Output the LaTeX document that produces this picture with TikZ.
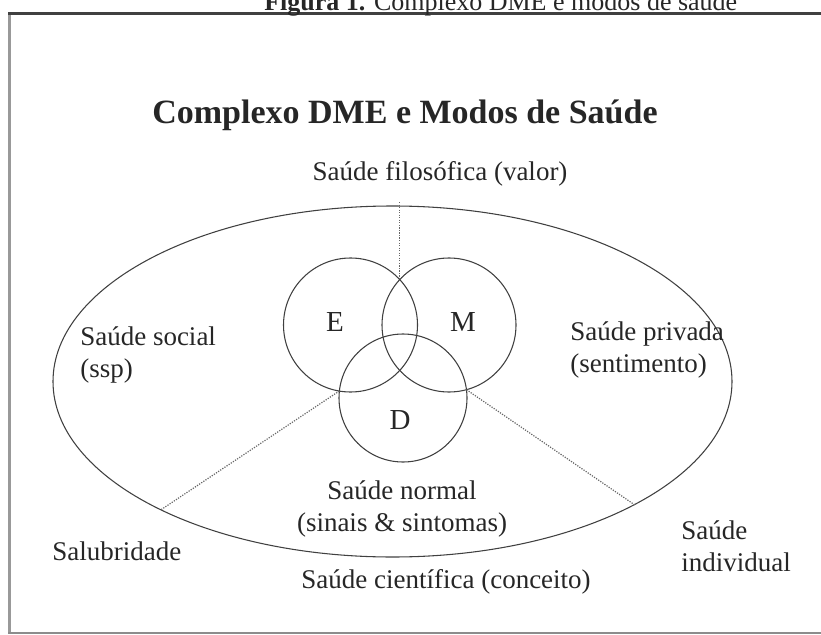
\documentclass[tikz,border=0pt]{standalone}
\usepackage{fontspec}
\setmainfont{Liberation Serif}
\usetikzlibrary{shapes.geometric,positioning}

\begin{document}
\begin{tikzpicture}[x=0.75pt, y=-0.75pt,
    txt/.style={inner sep=0pt, text=black!85, font=\fontsize{20.25}{24}\selectfont},
    ring/.style={circle, draw=black!75, line width=0.8pt, inner sep=0pt},
    dotline/.style={draw=black!60, densely dotted, line width=0.9pt}]

    \useasboundingbox (0,0) rectangle (821,635);
    \clip (0,0) rectangle (821,635);

    % frame round the figure
    \draw[black!40, line width=2.2pt] (9.5,13) -- (9.5,634);
    \draw[black!75, line width=2pt] (8,13.5) -- (821,13.5);
    \draw[black!45, line width=1.5pt] (8,633) -- (821,633);

    \node[txt, anchor=base west, font=\fontsize{19.5}{24}\selectfont] (cap) at (264,11) {\textbf{Figura 1.} Complexo DME e modos de saúde}; % caption, cut at the top
    \node[txt, anchor=base, font=\bfseries\fontsize{25.5}{30}\selectfont] (title) at (405,123) {Complexo DME e Modos de Saúde};

    \node[ellipse, draw=black!75, line width=0.8pt, minimum width=509.25pt, minimum height=263.25pt, inner sep=0pt] (ell) at (392.5,381.5) {}; % big ellipse
    \node[ring, minimum size=100.5pt] (E) at (350.5,325) {}; % top left circle
    \node[ring, minimum size=100.5pt] (M) at (449,325) {}; % top right circle
    \node[ring, minimum size=96pt] (D) at (403,398) {}; % bottom circle

    \node[txt, font=\fontsize{21.75}{24}\selectfont] (Elab) at (335,322) {E};
    \node[txt, font=\fontsize{21.75}{24}\selectfont] (Mlab) at (463,322) {M};
    \node[txt, font=\fontsize{21.75}{24}\selectfont] (Dlab) at (400,420) {D};

    \node[txt, anchor=base] (filo) at (440,180) {Saúde filosófica (valor)};
    \node[txt, anchor=west, align=left] (social) at (80,354.5) {Saúde social\\(ssp)};
    \node[txt, anchor=west, align=left] (privada) at (570,350) {Saúde privada\\(sentimento)};
    \node[txt, align=center] (normal) at (402,509) {Saúde normal\\(sinais \& sintomas)};
    \node[txt, anchor=base west] (salub) at (52,560) {Salubridade};
    \node[txt, anchor=west, align=left] (indiv) at (681,546) {Saúde\\individual};
    \node[txt, anchor=base] (cienti) at (446,588) {Saúde científica (conceito)};

    % meeting points of the circles
    \coordinate (EMtop) at (399.75,279.6);
    \coordinate (EDlow) at (339.3,391);
    \coordinate (MDlow) at (466.5,389.7);
    \coordinate (filoend) at (399.75,202);

    \draw[dotline] (filoend) -- (EMtop);
    \draw[dotline] (EDlow) -- (ell.209.7);
    \draw[dotline] (MDlow) -- (ell.333.5);
\end{tikzpicture}
\end{document}
